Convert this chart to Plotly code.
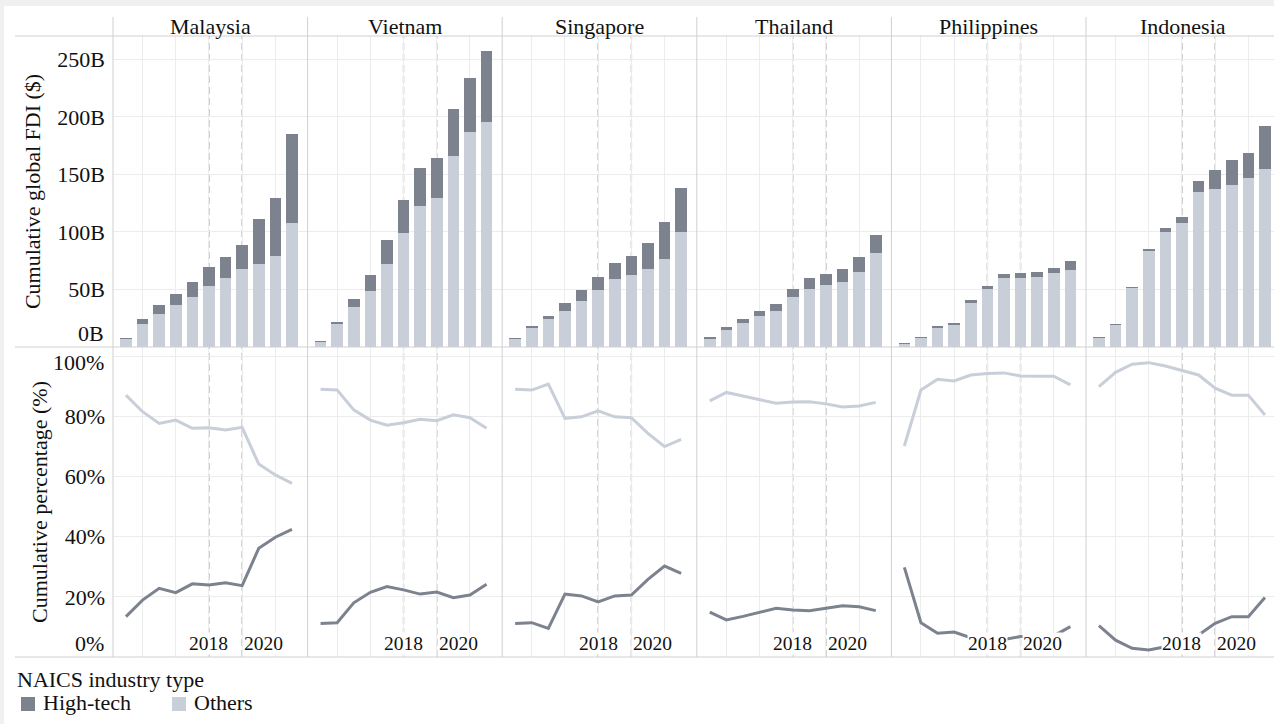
import plotly.graph_objects as go

# ---------------- DATA ----------------
years = [2013, 2014, 2015, 2016, 2017, 2018, 2019, 2020, 2021, 2022, 2023]
countries = ["Malaysia", "Vietnam", "Singapore", "Thailand", "Philippines", "Indonesia"]

# Cumulative global FDI (billion $), stacked: Others (bottom) + High-tech (top)
malaysia_others_fdi = [7.0, 19.7, 29.0, 36.3, 43.5, 53.3, 60.0, 68.1, 72.2, 78.9, 107.6]
malaysia_hightech_fdi = [1.1, 4.4, 7.3, 9.5, 13.0, 16.3, 18.5, 20.3, 39.1, 50.7, 77.4]
vietnam_others_fdi = [4.5, 19.7, 34.5, 49.0, 71.9, 99.1, 122.9, 129.3, 166.4, 186.7, 195.7]
vietnam_hightech_fdi = [0.5, 2.3, 7.2, 13.3, 21.4, 28.7, 32.5, 35.3, 40.3, 47.5, 61.4]
singapore_others_fdi = [7.0, 16.2, 24.6, 31.0, 40.0, 49.8, 59.1, 62.9, 68.1, 76.3, 100.0]
singapore_hightech_fdi = [0.8, 2.3, 2.4, 7.3, 9.8, 11.4, 14.2, 16.2, 22.6, 32.7, 38.3]
thailand_others_fdi = [7.2, 15.2, 21.1, 26.8, 31.7, 43.2, 50.6, 53.8, 56.4, 65.3, 82.0]
thailand_hightech_fdi = [1.5, 1.9, 3.2, 4.2, 5.7, 7.5, 9.1, 9.9, 11.4, 13.2, 15.4]
philippines_others_fdi = [2.5, 7.8, 16.6, 19.0, 38.4, 50.2, 59.7, 59.9, 61.3, 64.0, 67.2]
philippines_hightech_fdi = [1.0, 0.9, 1.4, 1.6, 2.5, 3.1, 3.5, 4.7, 4.2, 5.0, 7.3]
indonesia_others_fdi = [7.8, 18.9, 51.2, 83.5, 99.8, 107.5, 135.0, 137.5, 141.1, 147.2, 154.6]
indonesia_hightech_fdi = [0.9, 1.1, 1.2, 1.7, 3.7, 5.5, 9.1, 16.7, 21.3, 21.5, 37.3]

# Cumulative percentage (%)
malaysia_others_pct = [87.0, 81.5, 77.6, 78.7, 76.0, 76.2, 75.4, 76.3, 64.1, 60.5, 57.7]
malaysia_hightech_pct = [13.4, 18.9, 22.8, 21.4, 24.3, 23.9, 24.7, 23.7, 36.1, 39.8, 42.4]
vietnam_others_pct = [89.0, 88.7, 82.1, 78.7, 77.0, 77.8, 79.0, 78.5, 80.5, 79.5, 76.0]
vietnam_hightech_pct = [11.1, 11.4, 18.0, 21.5, 23.4, 22.3, 20.9, 21.6, 19.7, 20.6, 24.2]
singapore_others_pct = [89.0, 88.7, 90.7, 79.3, 79.8, 81.8, 79.8, 79.5, 74.3, 69.9, 72.3]
singapore_hightech_pct = [11.1, 11.4, 9.5, 20.9, 20.3, 18.3, 20.3, 20.6, 25.8, 30.2, 27.8]
thailand_others_pct = [85.1, 87.9, 86.7, 85.4, 84.3, 84.7, 84.8, 84.1, 83.1, 83.4, 84.6]
thailand_hightech_pct = [14.9, 12.3, 13.5, 14.9, 16.2, 15.6, 15.4, 16.2, 17.0, 16.7, 15.4]
philippines_others_pct = [70.1, 88.7, 92.3, 91.7, 93.7, 94.2, 94.4, 93.4, 93.3, 93.3, 90.4]
philippines_hightech_pct = [29.8, 11.4, 7.9, 8.3, 6.4, 6.0, 5.8, 6.8, 7.0, 7.0, 10.1]
indonesia_others_pct = [89.8, 94.6, 97.3, 97.8, 96.7, 95.3, 93.7, 89.3, 87.0, 87.0, 80.4]
indonesia_hightech_pct = [10.4, 5.6, 2.9, 2.3, 3.4, 5.1, 7.3, 11.2, 13.4, 13.4, 19.8]

fdi_tickvals = [50, 100, 150, 200, 250]
fdi_ticktext = ["50B", "100B", "150B", "200B", "250B"]
pct_tickvals = [20, 40, 60, 80, 100]
pct_ticktext = ["20%", "40%", "60%", "80%", ""]
ref_years = [2018, 2020]
ref_labels = ["2018", "2020"]
series_names = ["High-tech", "Others"]

others_fdi = [malaysia_others_fdi, vietnam_others_fdi, singapore_others_fdi,
              thailand_others_fdi, philippines_others_fdi, indonesia_others_fdi]
hightech_fdi = [malaysia_hightech_fdi, vietnam_hightech_fdi, singapore_hightech_fdi,
                thailand_hightech_fdi, philippines_hightech_fdi, indonesia_hightech_fdi]
others_pct = [malaysia_others_pct, vietnam_others_pct, singapore_others_pct,
              thailand_others_pct, philippines_others_pct, indonesia_others_pct]
hightech_pct = [malaysia_hightech_pct, vietnam_hightech_pct, singapore_hightech_pct,
                thailand_hightech_pct, philippines_hightech_pct, indonesia_hightech_pct]

# ---------------- STYLE / LAYOUT ----------------
W, H = 1274, 724
ML, MR, MT, MB = 113, 0, 36, 67
PW, PH = W - ML - MR, H - MT - MB
CW = 194.6            # column width px
PX_PER_YEAR = 16.6
X_START = 2012.22
BAR_TOP_PX = 347      # row separator (px from top)

C_HT = "#7c838e"
C_OT = "#c8cfd9"
GRID = "#ececec"
BORDER = "#d0d0d0"
DASH = "#bdbdbd"
FONT = "Liberation Serif, Times New Roman, serif"
FS = 22
TXT = "#111111"

def px2x(px):
    return (px - ML) / PW

def px2y(py):
    return (H - MB - py) / PH

split = px2y(BAR_TOP_PX)

fig = go.Figure()
layout = dict(
    width=W, height=H,
    margin=dict(l=ML, r=MR, t=MT, b=MB, pad=0),
    paper_bgcolor="white", plot_bgcolor="rgba(0,0,0,0)",
    barmode="stack", showlegend=False,
    font=dict(family=FONT, size=FS, color=TXT),
)

shapes = []
annotations = []

for k, name in enumerate(countries):
    top = k + 1
    bot = k + 7
    xs_top = "x" if top == 1 else f"x{top}"
    ys_top = "y" if top == 1 else f"y{top}"
    xs_bot = f"x{bot}"
    ys_bot = f"y{bot}"
    x0 = k * CW / PW
    x1 = min((k + 1) * CW / PW, 1.0)
    width_px = (x1 - x0) * PW
    xr = [X_START, X_START + width_px / PX_PER_YEAR]

    xa = dict(domain=[x0, x1], range=xr, showticklabels=False, ticks="",
              showgrid=True, gridcolor=GRID, gridwidth=1, tick0=2014, dtick=2,
              zeroline=False, showline=False, fixedrange=True)
    layout["xaxis" if top == 1 else f"xaxis{top}"] = dict(xa, anchor=ys_top)
    layout[f"xaxis{bot}"] = dict(xa, anchor=ys_bot)

    ya_top = dict(domain=[split, 1.0], range=[0, 270.4], anchor=xs_top,
                  tickvals=fdi_tickvals, ticktext=fdi_ticktext,
                  showticklabels=(k == 0), ticks="", ticklabelstandoff=7,
                  showgrid=True, gridcolor=GRID, zeroline=False, showline=False,
                  fixedrange=True,
                  tickfont=dict(family=FONT, size=FS, color=TXT))
    ya_bot = dict(domain=[0.0, split], range=[0, 103], anchor=xs_bot,
                  tickvals=pct_tickvals, ticktext=pct_ticktext,
                  showticklabels=(k == 0), ticks="", ticklabelstandoff=7,
                  showgrid=True, gridcolor=GRID, zeroline=False, showline=False,
                  fixedrange=True,
                  tickfont=dict(family=FONT, size=FS, color=TXT))
    if k == 0:
        ya_top["title"] = dict(text="Cumulative global FDI ($)", standoff=10,
                               font=dict(family=FONT, size=FS, color=TXT))
        ya_bot["title"] = dict(text="Cumulative percentage (%)", standoff=10,
                               font=dict(family=FONT, size=FS, color=TXT))
    layout["yaxis" if top == 1 else f"yaxis{top}"] = ya_top
    layout[f"yaxis{bot}"] = ya_bot

    # bars
    fig.add_trace(go.Bar(x=years, y=others_fdi[k], name="Others", marker_color=C_OT,
                         marker_line_width=0, width=0.7, xaxis=xs_top, yaxis=ys_top))
    fig.add_trace(go.Bar(x=years, y=hightech_fdi[k], name="High-tech", marker_color=C_HT,
                         marker_line_width=0, width=0.7, xaxis=xs_top, yaxis=ys_top))
    # lines
    fig.add_trace(go.Scatter(x=years, y=others_pct[k], name="Others", mode="lines",
                             line=dict(color=C_OT, width=3), xaxis=xs_bot, yaxis=ys_bot))
    fig.add_trace(go.Scatter(x=years, y=hightech_pct[k], name="High-tech", mode="lines",
                             line=dict(color=C_HT, width=3), xaxis=xs_bot, yaxis=ys_bot))

    # dashed reference lines (both rows)
    for ry in ref_years:
        for xs, ys in [(xs_top, ys_top), (xs_bot, ys_bot)]:
            shapes.append(dict(type="line", xref=xs, yref=f"{ys} domain", x0=ry, x1=ry,
                               y0=0, y1=1, layer="below",
                               line=dict(color=DASH, width=1.5, dash="7px,4px")))

    # reference year labels
    for ry, lab in zip(ref_years, ref_labels):
        annotations.append(dict(
            text=lab, xref=xs_bot, yref=ys_bot, x=ry, y=4.65,
            xanchor="center" if lab == "2018" else "left",
            xshift=0 if lab == "2018" else 1,
            yanchor="middle", showarrow=False, bgcolor="white", borderpad=0,
            font=dict(family=FONT, size=19.5, color=TXT)))

    # country header
    annotations.append(dict(
        text=name, xref="paper", yref="paper", x=(k + 0.5) * CW / PW, y=px2y(26.5),
        xanchor="center", yanchor="middle", showarrow=False,
        font=dict(family=FONT, size=FS, color=TXT)))

# edge tick labels shifted inward (as in the original)
annotations.append(dict(text="0B", xref="paper", yref="y", x=px2x(106), y=0, yshift=14,
                        xanchor="right", yanchor="middle", showarrow=False,
                        font=dict(family=FONT, size=FS, color=TXT)))
annotations.append(dict(text="100%", xref="paper", yref="y7", x=px2x(106), y=100, yshift=-6,
                        xanchor="right", yanchor="middle", showarrow=False,
                        font=dict(family=FONT, size=FS, color=TXT)))
annotations.append(dict(text="0%", xref="paper", yref="y7", x=px2x(106), y=0, yshift=14,
                        xanchor="right", yanchor="middle", showarrow=False,
                        font=dict(family=FONT, size=FS, color=TXT)))

# frame lines
for py in [36, BAR_TOP_PX, 657]:
    shapes.append(dict(type="line", xref="paper", yref="paper", x0=px2x(15), x1=1.0,
                       y0=px2y(py), y1=px2y(py), layer="above",
                       line=dict(color=BORDER, width=1)))
for k in range(6):
    xp = k * CW / PW
    shapes.append(dict(type="line", xref="paper", yref="paper", x0=xp, x1=xp,
                       y0=0, y1=px2y(17), layer="above",
                       line=dict(color=BORDER, width=1)))

# outer gray strips (screenshot border)
shapes.append(dict(type="rect", xref="paper", yref="paper", x0=px2x(0), x1=px2x(W),
                   y0=px2y(6), y1=px2y(0), fillcolor="#f0f0f0", line_width=0, layer="above"))
shapes.append(dict(type="rect", xref="paper", yref="paper", x0=px2x(0), x1=px2x(4),
                   y0=px2y(H), y1=px2y(0), fillcolor="#f0f0f0", line_width=0, layer="above"))

# legend (custom)
annotations.append(dict(text="NAICS industry type", xref="paper", yref="paper",
                        x=px2x(15), y=px2y(679), xanchor="left", yanchor="middle",
                        showarrow=False, font=dict(family=FONT, size=FS, color=TXT)))
legend_items = [(series_names[0], C_HT, 21, 41), (series_names[1], C_OT, 172, 192)]
for lab, col, sq_x, tx_x in legend_items:
    shapes.append(dict(type="rect", xref="paper", yref="paper",
                       x0=px2x(sq_x), x1=px2x(sq_x + 14), y0=px2y(711), y1=px2y(697),
                       fillcolor=col, line_width=0, layer="above"))
    annotations.append(dict(text=lab, xref="paper", yref="paper", x=px2x(tx_x), y=px2y(703),
                            xanchor="left", yanchor="middle", showarrow=False,
                            font=dict(family=FONT, size=FS, color=TXT)))

layout["shapes"] = shapes
layout["annotations"] = annotations
fig.update_layout(**layout)

fig.write_html("out.html",
               config={"displayModeBar": False, "staticPlot": True},
               post_script="document.body.style.margin='0px';document.body.style.overflow='hidden';")
